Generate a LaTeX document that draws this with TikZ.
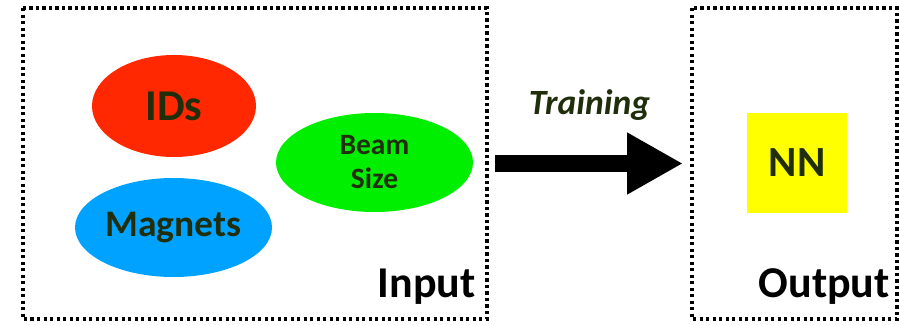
\documentclass[tikz,border=0pt]{standalone}
\usepackage{fontspec}
\setmainfont{Carlito}
\usetikzlibrary{shapes.geometric,arrows.meta}
\definecolor{txtdark}{RGB}{32,46,12}
\definecolor{idred}{RGB}{255,40,0}
\definecolor{magblue}{RGB}{0,162,255}
\definecolor{beamgreen}{RGB}{0,238,0}
\definecolor{nnyellow}{RGB}{255,255,0}
\tikzset{
  dotbox/.style={draw=black, line width=3.5pt, dash pattern=on 3.4pt off 3.1pt, inner sep=0pt},
  blob/.style={ellipse, inner sep=0pt, draw=none, text=txtdark, font=\bfseries},
  lbl/.style={inner sep=0pt, font=\bfseries\fontsize{44}{44}\selectfont, text=black}
}
\begin{document}
\begin{tikzpicture}[x=1pt,y=-1pt]
\useasboundingbox (0,0) rectangle (899,324);
% boxes
\draw[dotbox] (23,8) rectangle (487,319);
\draw[dotbox] (692,8) rectangle (897,319);
\coordinate (inbox) at (487,163.5);
\coordinate (outbox) at (692,163.5);
% ellipses
\node[blob, fill=idred, minimum width=164pt, minimum height=102pt,
      font=\bfseries\fontsize{44}{44}\selectfont] (ids) at (174,106) {IDs};
\node[blob, fill=magblue, minimum width=197pt, minimum height=99pt,
      font=\bfseries\fontsize{37.5}{37.5}\selectfont] (mag) at (173.5,227.5) {Magnets};
\node[blob, fill=beamgreen, minimum width=197pt, minimum height=99pt, align=center,
      font=\bfseries\fontsize{29.5}{34}\selectfont] (beam) at (374.5,162.5) {Beam\\Size};
% NN
\node[fill=nnyellow, minimum width=100pt, minimum height=100pt, inner sep=0pt,
      text=txtdark, font=\bfseries\fontsize{43}{43}\selectfont] (nn) at (797,163) {NN};
% labels
\node[lbl, anchor=base east] (inlbl) at (476,297) {Input};
\node[lbl, anchor=base east] (outlbl) at (890,297) {Output};
\node[inner sep=0pt, anchor=base, text=txtdark,
      font=\bfseries\itshape\fontsize{35.5}{35.5}\selectfont] (train) at (589.5,114) {Training};
% arrow
\draw[line width=17pt, -{Triangle[length=56pt,width=58pt]}]
  ([xshift=8pt]inbox) -- ([xshift=-9pt]outbox);
\end{tikzpicture}
\end{document}
